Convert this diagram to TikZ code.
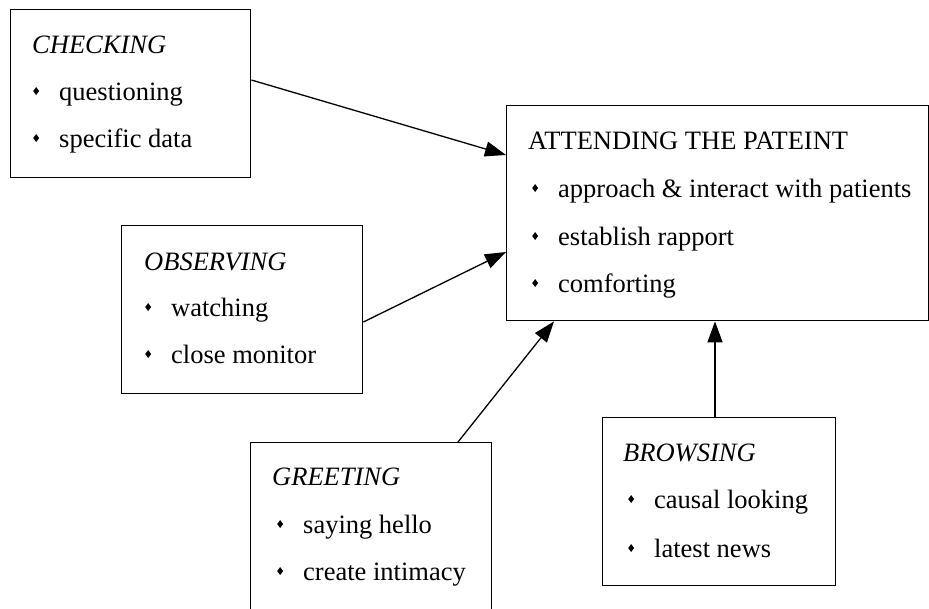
\documentclass[tikz,border=0pt]{standalone}
\usepackage{fontspec}
\setmainfont{Liberation Serif}
\usetikzlibrary{arrows.meta,calc}
% small black diamond used as the list bullet
\newcommand{\bul}{\raisebox{5pt}{\scalebox{0.75}[1]{\rotatebox{45}{\rule{5.6pt}{5.6pt}}}}}
\newcommand{\itm}[1]{\makebox[26pt][l]{\bul}#1}
\tikzset{
  box/.style={draw, line width=1.4pt, anchor=north west, inner sep=0pt},
  txt/.style={anchor=base west, inner sep=0pt, font=\fontsize{26.5}{26.5}\selectfont},
  conn/.style={line width=1.3pt, -{Triangle[length=21pt,width=15pt]}}
}
\begin{document}
\begin{tikzpicture}[x=1pt,y=-1pt]
\useasboundingbox (0,0) rectangle (929,608);
% boxes
\node[box, minimum width=240pt, minimum height=168pt] (chk) at (10,9) {};
\node[box, minimum width=422pt, minimum height=215pt] (att) at (506,105) {};
\node[box, minimum width=241pt, minimum height=168pt] (obs) at (121,225) {};
\node[box, minimum width=241pt, minimum height=175pt] (gre) at (250,442) {};
\node[box, minimum width=233pt, minimum height=168pt] (brw) at (602,417) {};
% CHECKING
\node[txt] (chkh) at (32,53) {\textit{CHECKING}};
\node[txt] (chk1) at (33,100) {\itm{questioning}};
\node[txt] (chk2) at (33,147) {\itm{specific data}};
% ATTENDING THE PATEINT
\node[txt] (atth) at (528,149) {ATTENDING THE PATEINT};
\node[txt] (att1) at (532,197) {\itm{approach \& interact with patients}};
\node[txt] (att2) at (532,245) {\itm{establish rapport}};
\node[txt] (att3) at (532,292) {\itm{comforting}};
% OBSERVING
\node[txt] (obsh) at (144,270) {\textit{OBSERVING}};
\node[txt] (obs1) at (145,316) {\itm{watching}};
\node[txt] (obs2) at (145,363) {\itm{close monitor}};
% GREETING
\node[txt] (greh) at (272,485) {\textit{GREETING}};
\node[txt] (gre1) at (277,533) {\itm{saying hello}};
\node[txt] (gre2) at (277,580) {\itm{create intimacy}};
% BROWSING
\node[txt] (brwh) at (623,461) {\textit{BROWSING}};
\node[txt] (brw1) at (628,508) {\itm{causal looking}};
\node[txt] (brw2) at (628,557) {\itm{latest news}};
% connectors
\draw[conn] ($(chk.north east)+(0,71)$) -- ($(att.north west)+(0,50)$);
\draw[conn] ($(obs.north east)+(0,97)$) -- ($(att.north west)+(0,147)$);
\draw[conn] ($(gre.north west)+(208,0)$) -- ($(att.south west)+(48,0)$);
\draw[conn] ($(brw.north west)+(113,0)$) -- ($(att.south west)+(209,0)$);
\end{tikzpicture}
\end{document}
